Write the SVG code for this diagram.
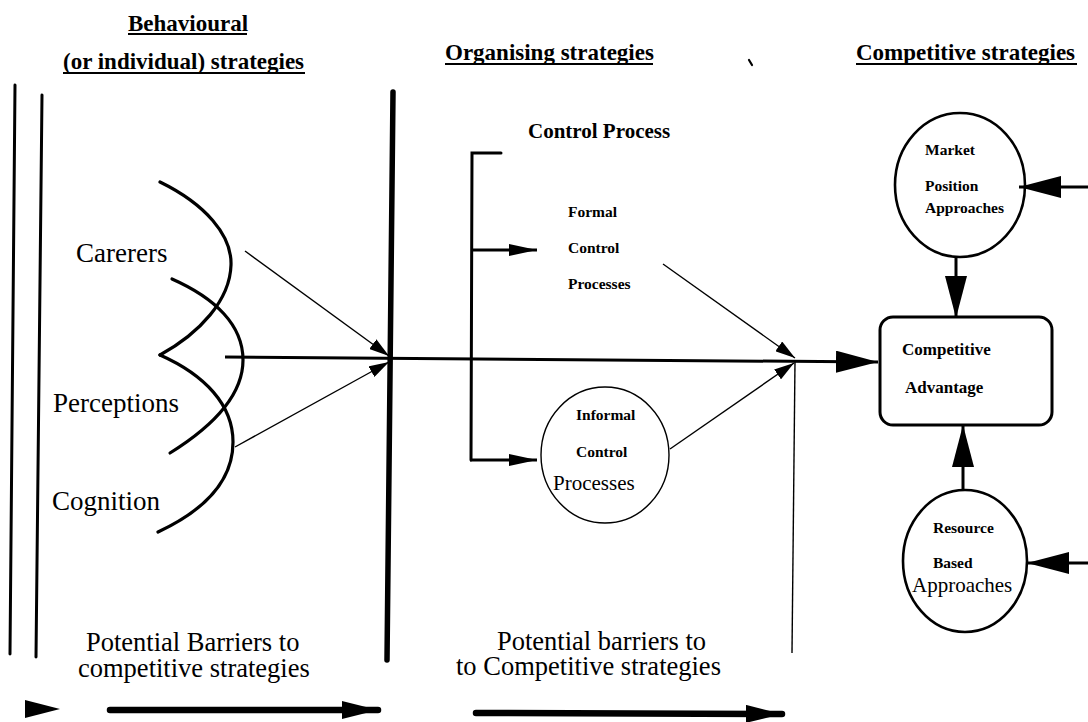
<svg xmlns="http://www.w3.org/2000/svg" width="1088" height="722" viewBox="0 0 1088 722">
  <style>
    text { font-family: "Liberation Serif", "Times New Roman", serif; fill: #000; }
    .hdr { font-size: 23px; font-weight: bold; }
    .big { font-size: 27px; }
    .cap { font-size: 26.5px; }
    .sm { font-size: 15.5px; font-weight: bold; }
    .mid { font-size: 21px; }
    .ul { stroke: #000; stroke-width: 1.8; }
    .rule { stroke: #000; stroke-width: 3; fill: none; stroke-linecap: round; }
    .wall { stroke: #000; stroke-width: 5.5; fill: none; stroke-linecap: round; }
    .curve { stroke: #000; stroke-width: 3.2; fill: none; stroke-linecap: round; }
    .thin { stroke: #000; stroke-width: 1.4; fill: none; }
    .shape { fill: #fff; stroke: #000; }
    .heavy { stroke: #000; stroke-width: 3; fill: none; }
    .fat { stroke: #000; stroke-width: 6.5; fill: none; stroke-linecap: round; }
  </style>
  <defs>
    <marker id="headThin" markerUnits="userSpaceOnUse" markerWidth="20" markerHeight="12" refX="20" refY="6" orient="auto">
      <path d="M0,0 L20,6 L0,12 Z" fill="#000"/>
    </marker>
    <marker id="headMid" markerUnits="userSpaceOnUse" markerWidth="28" markerHeight="12" refX="28" refY="6" orient="auto">
      <path d="M0,0 L28,6 L0,12 Z" fill="#000"/>
    </marker>
    <marker id="headBig" markerUnits="userSpaceOnUse" markerWidth="42" markerHeight="22" refX="42" refY="11" orient="auto">
      <path d="M0,0 L42,11 L0,22 Z" fill="#000"/>
    </marker>
    <marker id="headBar" markerUnits="userSpaceOnUse" markerWidth="36" markerHeight="18" refX="36" refY="9" orient="auto">
      <path d="M0,0 L36,9 L0,18 Z" fill="#000"/>
    </marker>
  </defs>
  <rect width="1088" height="722" fill="#fff"/>

  <!-- column headings -->
  <g id="headings">
    <text class="hdr" x="128" y="31">Behavioural</text>
    <line class="ul" x1="128" y1="34" x2="247" y2="34"/>
    <text class="hdr" x="63" y="69">(or individual) strategies</text>
    <line class="ul" x1="63" y1="73" x2="305" y2="73"/>
    <text class="hdr" x="445" y="60">Organising strategies</text>
    <line class="ul" x1="445" y1="64" x2="653" y2="64"/>
    <text class="hdr" x="856" y="60">Competitive strategies</text>
    <line class="ul" x1="856" y1="64" x2="1077" y2="64"/>
    <path d="M749,60 L752,65" stroke="#000" stroke-width="2.2" stroke-linecap="round"/>
  </g>

  <!-- section boundaries -->
  <g id="boundaries">
    <line class="rule" x1="15" y1="85" x2="10" y2="654"/>
    <line class="rule" x1="42" y1="95" x2="36" y2="657"/>
    <line class="wall" x1="393" y1="92" x2="387" y2="660"/>
    <line class="thin" x1="795" y1="361" x2="792" y2="653"/>
  </g>

  <!-- individual strategies -->
  <g id="individual-factors">
    <path class="curve" d="M160,182 C205,204 232,235 231,265 C230,300 200,333 160,355"/>
    <path class="curve" d="M172,279 C215,298 243,325 243,360 C243,395 215,425 170,453"/>
    <path class="curve" d="M160,355 C205,375 233,405 233,442 C233,480 205,510 158,532"/>
    <text class="big" x="76" y="262">Carerers</text>
    <text class="big" x="53" y="412">Perceptions</text>
    <text class="big" x="52" y="510">Cognition</text>
  </g>

  <!-- control process bracket -->
  <g id="control-process">
    <text x="528" y="138" style="font-size:21px;font-weight:bold">Control Process</text>
    <path class="rule" d="M501,153 L472,153 L471,460"/>
  </g>

  <g id="formal-control">
    <text class="sm" x="568" y="217">Formal</text>
    <text class="sm" x="568" y="253">Control</text>
    <text class="sm" x="568" y="289">Processes</text>
  </g>

  <g id="informal-control">
    <ellipse class="shape" stroke-width="1.4" cx="605" cy="455" rx="64" ry="68"/>
    <text class="sm" x="576" y="420">Informal</text>
    <text class="sm" x="576" y="457">Control</text>
    <text class="mid" x="553" y="490">Processes</text>
  </g>

  <!-- competitive strategies -->
  <g id="market-position">
    <ellipse class="shape" stroke-width="2.6" cx="960" cy="185" rx="65" ry="72"/>
    <text class="sm" x="925" y="155">Market</text>
    <text class="sm" x="925" y="191">Position</text>
    <text class="sm" x="925" y="213">Approaches</text>
  </g>

  <g id="competitive-advantage">
    <rect class="shape" stroke-width="3" x="880" y="317" width="172" height="108" rx="13"/>
    <text x="902" y="355" style="font-size:17px;font-weight:bold">Competitive</text>
    <text x="905" y="393" style="font-size:17px;font-weight:bold">Advantage</text>
  </g>

  <g id="resource-based">
    <ellipse class="shape" stroke-width="2.6" cx="965" cy="561" rx="62" ry="71"/>
    <text class="sm" x="933" y="533">Resource</text>
    <text class="sm" x="933" y="568">Based</text>
    <text class="mid" x="912" y="592">Approaches</text>
  </g>

  <!-- barrier captions -->
  <g id="barrier-captions">
    <text class="cap" x="86" y="651">Potential Barriers to</text>
    <text class="cap" x="78" y="677">competitive strategies</text>
    <text class="cap" x="497" y="650">Potential barriers to</text>
    <text class="cap" x="456" y="675">to Competitive strategies</text>
  </g>

  <!-- connectors -->
  <g id="connectors">
    <line class="thin" x1="245" y1="251" x2="389" y2="356" marker-end="url(#headThin)"/>
    <line class="thin" x1="235" y1="447" x2="389" y2="362" marker-end="url(#headThin)"/>
    <line class="heavy" x1="225" y1="357" x2="878" y2="362" marker-end="url(#headBig)"/>
    <line class="thin" x1="663" y1="264" x2="795" y2="358" marker-end="url(#headThin)"/>
    <line class="thin" x1="670" y1="449" x2="794" y2="363" marker-end="url(#headThin)"/>
    <line class="heavy" x1="472" y1="250" x2="537" y2="250" marker-end="url(#headMid)"/>
    <line class="heavy" x1="470" y1="460" x2="537" y2="460" marker-end="url(#headMid)"/>
    <line class="heavy" x1="1088" y1="187" x2="1019" y2="187" marker-end="url(#headBig)"/>
    <line class="heavy" x1="956" y1="257" x2="956" y2="318" marker-end="url(#headBig)"/>
    <line class="heavy" x1="963" y1="490" x2="963" y2="425" marker-end="url(#headBig)"/>
    <line class="heavy" x1="1088" y1="563" x2="1027" y2="563" marker-end="url(#headBig)"/>
    <path d="M25,700 L60,709 L25,718 Z" fill="#000"/>
    <line class="fat" x1="110" y1="710" x2="378" y2="710" marker-end="url(#headBar)"/>
    <line class="fat" x1="476" y1="713" x2="782" y2="714" marker-end="url(#headBar)"/>
  </g>
</svg>
